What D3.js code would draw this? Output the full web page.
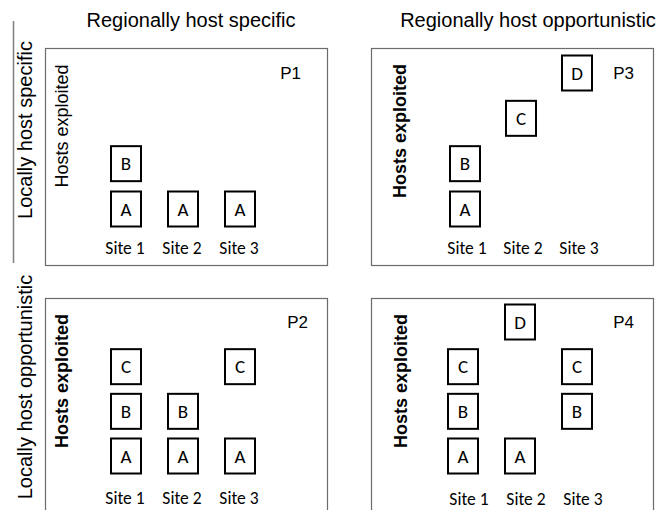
<!DOCTYPE html>
<html>
<head>
<meta charset="utf-8">
<script src="https://cdn.jsdelivr.net/npm/d3@7"></script>
<style>
  body { margin: 0; background: #fff; }
  svg { display: block; }
</style>
</head>
<body>
<div id="chart"></div>
<script>
// data
const sites = ['Site 1', 'Site 2', 'Site 3'];
const hosts = ['A', 'B', 'C', 'D'];
const colTitles = ['Regionally host specific', 'Regionally host opportunistic'];
const rowTitles = ['Locally host specific', 'Locally host opportunistic'];
const panelNames = ['P1', 'P2', 'P3', 'P4'];
// hosts exploited at each site (one list per site)
const p1Hosts = [['A', 'B'], ['A'], ['A']];
const p2Hosts = [['A', 'B', 'C'], ['A', 'B'], ['A', 'C']];
const p3Hosts = [['A', 'B'], ['C'], ['D']];
const p4Hosts = [['A', 'B', 'C'], ['A', 'D'], ['B', 'C']];
const yLabelBold = [false, true, true, true];

const W = 671, H = 510;
const svg = d3.select('#chart').append('svg').attr('width', W).attr('height', H);

const sansFont = "'Liberation Sans', Arial, sans-serif";
const siteFont = "Carlito, Calibri, Lato, sans-serif";

// panel layout
const layout = [
  {x:45,  y:48,  w:282, h:217, sx:[126,240], sy:[209,73],  siteY:254, siteDx:-1, px:301, py:79,  lx:68,  ly:126},
  {x:45,  y:298, w:282, h:230, sx:[126,240], sy:[456,322], siteY:504, siteDx:-1, px:308, py:328, lx:68,  ly:381},
  {x:371, y:48,  w:282, h:217, sx:[465,577], sy:[209,73],  siteY:254, siteDx:2,  px:634, py:79,  lx:406, ly:131},
  {x:371, y:298, w:282, h:230, sx:[463,577], sy:[456,322], siteY:505, siteDx:6,  px:634, py:328, lx:407, ly:381}
];
const panelHosts = [p1Hosts, p2Hosts, p3Hosts, p4Hosts];

// column titles
svg.selectAll('text.col').data(colTitles).enter().append('text')
  .attr('class', 'col')
  .attr('x', (d, i) => i === 0 ? 191 : 528)
  .attr('y', 27)
  .attr('text-anchor', 'middle')
  .attr('font-family', sansFont).attr('font-size', 20)
  .text(d => d);

// row titles + separator line
svg.append('line').attr('x1', 13.5).attr('x2', 13.5).attr('y1', 21).attr('y2', 263)
  .attr('stroke', '#7f7f7f').attr('stroke-width', 1.5);
svg.selectAll('text.row').data(rowTitles).enter().append('text')
  .attr('class', 'row')
  .attr('transform', (d, i) => `translate(32,${i === 0 ? 130 : 387}) rotate(-90)`)
  .attr('text-anchor', 'middle')
  .attr('font-family', sansFont).attr('font-size', 20)
  .text(d => d);

panelNames.forEach((name, i) => {
  const L = layout[i];
  const g = svg.append('g');
  const x = d3.scalePoint().domain(sites).range(L.sx);
  const y = d3.scalePoint().domain(hosts).range(L.sy);

  g.append('rect')
    .attr('x', L.x + 0.5).attr('y', L.y + 0.5).attr('width', L.w).attr('height', L.h)
    .attr('fill', 'none').attr('stroke', '#6b6b6b').attr('stroke-width', 1.2);

  g.append('text')
    .attr('x', L.px).attr('y', L.py).attr('text-anchor', 'end')
    .attr('font-family', sansFont).attr('font-size', 17)
    .text(name);

  g.append('text')
    .attr('transform', `translate(${L.lx},${L.ly}) rotate(-90)`)
    .attr('text-anchor', 'middle')
    .attr('font-family', sansFont).attr('font-size', 18)
    .attr('font-weight', yLabelBold[i] ? 700 : 400)
    .text('Hosts exploited');

  g.selectAll('text.site').data(sites).enter().append('text')
    .attr('class', 'site')
    .attr('x', d => x(d) + L.siteDx).attr('y', L.siteY)
    .attr('text-anchor', 'middle')
    .attr('font-family', siteFont).attr('font-size', 17.5)
    .text(d => d);

  const cells = [];
  panelHosts[i].forEach((list, s) => list.forEach(h => cells.push({site: sites[s], host: h})));

  const box = g.selectAll('g.box').data(cells).enter().append('g')
    .attr('class', 'box')
    .attr('transform', d => `translate(${x(d.site)},${y(d.host)})`);
  box.append('rect')
    .attr('x', -15).attr('y', -17.5).attr('width', 30).attr('height', 35)
    .attr('fill', '#fff').attr('stroke', '#000').attr('stroke-width', 2);
  box.append('text')
    .attr('y', 6.5).attr('text-anchor', 'middle')
    .attr('font-family', siteFont).attr('font-size', 19)
    .text(d => d.host);
});
</script>
</body>
</html>
